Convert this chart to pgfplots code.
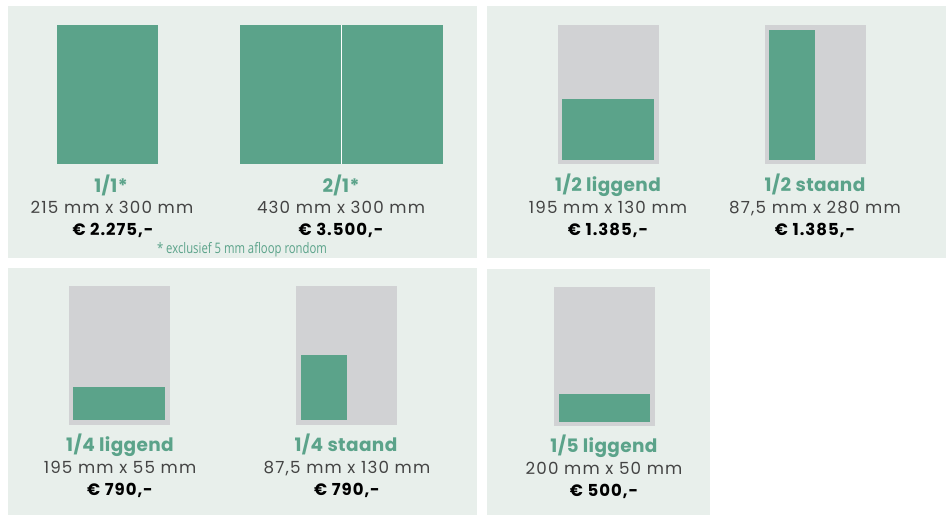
\documentclass[border=0pt]{standalone}
\usepackage{pgfplots}
\pgfplotsset{compat=1.18}
\usepackage{fontspec}
\setmainfont{Poppins}
\newfontfamily\condfont{Open Sans}[FakeStretch=0.78]
\newfontfamily\ttlfont{Poppins}[LetterSpace=2]
\newfontfamily\dimfont{Poppins}[LetterSpace=7]
\newfontfamily\prcfont{Poppins}[LetterSpace=6]
\definecolor{adgreen}{HTML}{5BA38A}
\definecolor{adgray}{HTML}{D1D2D4}
\definecolor{panelbg}{HTML}{E8EFEB}
\definecolor{dimtext}{HTML}{444444}
\tikzset{
  ttl/.style={anchor=base, text=adgreen, font=\ttlfont\bfseries\fontsize{18.5}{18}\selectfont},
  dim/.style={anchor=base, text=dimtext, font=\dimfont\fontsize{16.7}{16}\selectfont},
  prc/.style={anchor=base, text=black, font=\prcfont\bfseries\fontsize{16.5}{16}\selectfont},
}
\begin{document}
\begin{tikzpicture}
\begin{axis}[scale only axis, width=947pt, height=515pt,
  xmin=0, xmax=947, ymin=0, ymax=515, y dir=reverse,
  hide axis, clip=false]
% full frame for the bounding box
\addplot[draw=none, forget plot] coordinates {(0,0) (947,0) (947,515) (0,515)};
% panel backgrounds
\addplot[fill=panelbg, draw=none] coordinates {(8,6) (477,6) (477,258) (8,258)};
\addplot[fill=panelbg, draw=none] coordinates {(487,6) (946,6) (946,258) (487,258)};
\addplot[fill=panelbg, draw=none] coordinates {(8,268) (477,268) (477,515) (8,515)};
\addplot[fill=panelbg, draw=none] coordinates {(487,269) (710,269) (710,515) (487,515)};
% 1/1
\addplot[fill=adgreen, draw=none] coordinates {(57,25) (158,25) (158,164) (57,164)};
% 2/1
\addplot[fill=adgreen, draw=none] coordinates {(240,25) (443,25) (443,164) (240,164)};
\addplot[white, line width=1pt] coordinates {(341.5,25) (341.5,164)};
% 1/2 liggend
\addplot[fill=adgray, draw=none] coordinates {(558,25) (659,25) (659,164) (558,164)};
\addplot[fill=adgreen, draw=none] coordinates {(562,99) (654,99) (654,160) (562,160)};
% 1/2 staand
\addplot[fill=adgray, draw=none] coordinates {(765,25) (866,25) (866,164) (765,164)};
\addplot[fill=adgreen, draw=none] coordinates {(769,30) (815,30) (815,160) (769,160)};
% 1/4 liggend
\addplot[fill=adgray, draw=none] coordinates {(69,286) (170,286) (170,425) (69,425)};
\addplot[fill=adgreen, draw=none] coordinates {(73,387) (165,387) (165,420) (73,420)};
% 1/4 staand
\addplot[fill=adgray, draw=none] coordinates {(296,286) (397,286) (397,425) (296,425)};
\addplot[fill=adgreen, draw=none] coordinates {(301,355) (347,355) (347,420) (301,420)};
% 1/5 liggend
\addplot[fill=adgray, draw=none] coordinates {(554,287) (655,287) (655,426) (554,426)};
\addplot[fill=adgreen, draw=none] coordinates {(559,394) (650,394) (650,422) (559,422)};
% texts
\node[ttl] at (axis cs:111,192) {1/1*};
\node[dim] at (axis cs:112,213) {215 mm x 300 mm};
\node[prc] at (axis cs:113,235) {€ 2.275,-};
\node[ttl] at (axis cs:341,192) {2/1*};
\node[dim] at (axis cs:341,213) {430 mm x 300 mm};
\node[prc] at (axis cs:341,235) {€ 3.500,-};
\node[anchor=base, text=adgreen, font=\condfont\fontsize{14.5}{14}\selectfont] at (axis cs:242,253) {* exclusief 5 mm afloop rondom};
\node[ttl] at (axis cs:608,191) {1/2 liggend};
\node[dim] at (axis cs:608,213) {195 mm x 130 mm};
\node[prc] at (axis cs:608,235) {€ 1.385,-};
\node[ttl] at (axis cs:815,191) {1/2 staand};
\node[dim] at (axis cs:815,213) {87,5 mm x 280 mm};
\node[prc] at (axis cs:815,235) {€ 1.385,-};
\node[ttl] at (axis cs:120,451) {1/4 liggend};
\node[dim] at (axis cs:120,473) {195 mm x 55 mm};
\node[prc] at (axis cs:120,495) {€ 790,-};
\node[ttl] at (axis cs:346,451) {1/4 staand};
\node[dim] at (axis cs:347,473) {87,5 mm x 130 mm};
\node[prc] at (axis cs:347,495) {€ 790,-};
\node[ttl] at (axis cs:604,452) {1/5 liggend};
\node[dim] at (axis cs:604,474) {200 mm x 50 mm};
\node[prc] at (axis cs:604,496) {€ 500,-};
\end{axis}
\end{tikzpicture}
\end{document}
